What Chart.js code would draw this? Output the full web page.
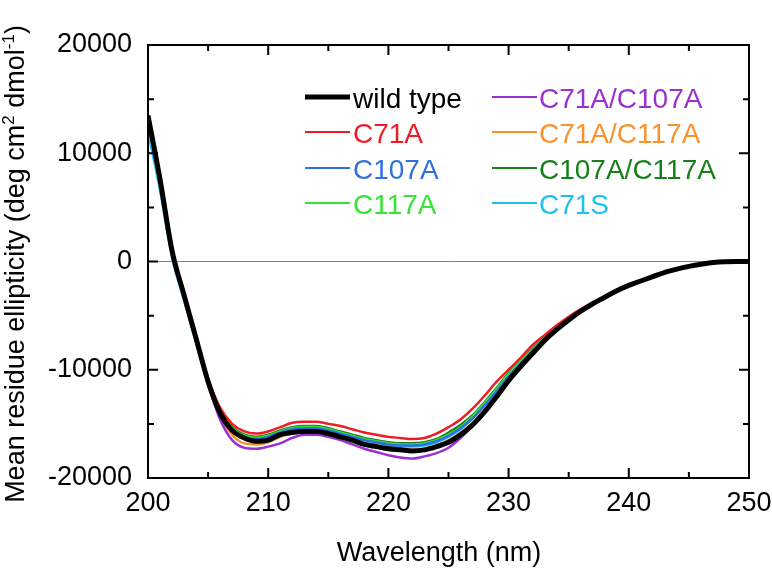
<!DOCTYPE html>
<html><head><meta charset="utf-8">
<script src="https://cdn.jsdelivr.net/npm/chart.js@4/dist/chart.umd.min.js"></script>
<style>html,body{margin:0;padding:0;background:#fff}</style>
</head><body>
<canvas id="c" width="772" height="568"></canvas>
<script>
const wavelength = [200,201,202,203,204,205,206,207,208,209,210,211,212,213,214,215,216,217,218,219,220,221,222,223,224,225,226,227,228,229,230,231,232,233,234,235,236,237,238,239,240,241,242,243,244,245,246,247,248,249,250];
const xTicks = [200,210,220,230,240,250];
const yTicks = [-20000,-10000,0,10000,20000];
const seriesNames = ['wild type','C71A','C107A','C117A','C71A/C107A','C71A/C117A','C107A/C117A','C71S'];
const seriesColors = ['#000000','#ee1c25','#2f6fdf','#33e633','#9b30d0','#f7922f','#168018','#1ec0ee'];

const wildType = [13500,7600,1000,-3100,-7100,-11100,-14000,-15600,-16300,-16600,
 -16500,-16000,-15800,-15700,-15700,-15900,-16200,-16500,-16900,-17100,
 -17300,-17400,-17500,-17400,-17100,-16700,-16000,-15100,-13900,-12500,
 -11000,-9700,-8500,-7300,-6300,-5400,-4600,-3900,-3300,-2700,
 -2200,-1800,-1400,-1000,-700,-450,-250,-100,-20,0,0];
const c71a = [13200,7400,900,-3100,-7000,-10800,-13500,-15000,-15700,-15900,
 -15700,-15300,-14900,-14800,-14800,-15000,-15200,-15500,-15800,-16000,
 -16200,-16300,-16400,-16300,-15900,-15300,-14600,-13600,-12400,-11100,
 -10000,-8900,-7700,-6800,-5900,-5100,-4400,-3800,-3200,-2700,
 -2200,-1800,-1400,-1000,-700,-450,-250,-100,-20,0,0];
const c107a = [13000,7300,800,-3200,-7100,-11000,-13900,-15500,-16200,-16400,
 -16200,-15800,-15500,-15400,-15400,-15600,-15900,-16200,-16500,-16700,
 -16900,-17000,-17000,-16900,-16600,-16100,-15400,-14500,-13300,-12000,
 -10600,-9400,-8200,-7100,-6100,-5300,-4500,-3900,-3300,-2700,
 -2200,-1800,-1400,-1000,-700,-450,-250,-100,-20,0,0];
const c117a = [13100,7400,900,-3100,-7000,-10900,-13800,-15400,-16100,-16300,
 -16100,-15700,-15400,-15300,-15300,-15500,-15800,-16100,-16400,-16600,
 -16800,-16900,-16900,-16800,-16500,-16000,-15300,-14300,-13100,-11800,
 -10400,-9200,-8100,-7000,-6100,-5300,-4500,-3900,-3300,-2700,
 -2200,-1800,-1400,-1000,-700,-450,-250,-100,-20,0,0];
const c71aC107a = [13000,7300,800,-3300,-7300,-11300,-14600,-16500,-17200,-17300,
 -17100,-16800,-16300,-16000,-16000,-16200,-16500,-16900,-17300,-17600,
 -17900,-18100,-18200,-18000,-17700,-17200,-16300,-15200,-14000,-12500,
 -11000,-9700,-8400,-7300,-6300,-5400,-4600,-3900,-3300,-2700,
 -2200,-1800,-1400,-1000,-700,-450,-250,-100,-20,0,0];
const c71aC117a = [13300,7500,900,-3200,-7200,-11200,-14200,-16000,-16800,-16900,
 -16700,-16200,-15900,-15800,-15800,-16000,-16200,-16500,-16800,-17000,
 -17200,-17300,-17400,-17300,-17000,-16500,-15800,-14900,-13700,-12300,
 -10900,-9600,-8400,-7300,-6300,-5400,-4600,-3900,-3300,-2700,
 -2200,-1800,-1400,-1000,-700,-450,-250,-100,-20,0,0];
const c107aC117a = [13200,7500,900,-3100,-7000,-10900,-13800,-15300,-16000,-16200,
 -16000,-15600,-15300,-15200,-15200,-15400,-15700,-16000,-16300,-16500,
 -16700,-16800,-16800,-16700,-16400,-15800,-15100,-14200,-13000,-11700,
 -10300,-9200,-8000,-7000,-6100,-5300,-4500,-3900,-3300,-2700,
 -2200,-1800,-1400,-1000,-700,-450,-250,-100,-20,0,0];
const c71s = [12000,6600,400,-3600,-7500,-11300,-14100,-15600,-16300,-16500,
 -16300,-15900,-15600,-15500,-15500,-15700,-16000,-16300,-16600,-16800,
 -17000,-17100,-17100,-17000,-16700,-16200,-15500,-14500,-13300,-12000,
 -10600,-9400,-8200,-7100,-6200,-5300,-4500,-3900,-3300,-2700,
 -2200,-1800,-1400,-1000,-700,-450,-250,-100,-20,0,0];

const seriesValues = [wildType,c71a,c107a,c117a,c71aC107a,c71aC117a,c107aC117a,c71s];
const FONT = "'Liberation Sans', Arial, sans-serif";

const datasets = seriesValues.map((vals,i)=>({
  label: seriesNames[i],
  data: wavelength.map((w,j)=>({x:w,y:vals[j]})),
  borderColor: seriesColors[i],
  backgroundColor: seriesColors[i],
  borderWidth: i===0 ? 5 : 2.5,
  pointRadius: 0,
  cubicInterpolationMode: 'monotone',
  fill: false
}));

const decorPlugin = {
  id:'decor',
  afterDraw(chart){
    const ctx = chart.ctx, a = chart.chartArea;
    const xs = chart.scales.x, ys = chart.scales.y;
    ctx.save();
    ctx.strokeStyle = '#000'; ctx.lineWidth = 2;
    ctx.strokeRect(a.left, a.top, a.right-a.left, a.bottom-a.top);
    ctx.beginPath();
    for (let v=200; v<=250; v+=5){
      const px = xs.getPixelForValue(v);
      const L = (v%10===0)?10:6;
      ctx.moveTo(px,a.bottom); ctx.lineTo(px,a.bottom-L);
      ctx.moveTo(px,a.top); ctx.lineTo(px,a.top+L);
    }
    for (let v=-20000; v<=20000; v+=5000){
      const py = ys.getPixelForValue(v);
      const L = (v%10000===0)?10:6;
      ctx.moveTo(a.left,py); ctx.lineTo(a.left+L,py);
      ctx.moveTo(a.right,py); ctx.lineTo(a.right-L,py);
    }
    ctx.stroke();
    const rows = [97,132,168,203];
    const cols = [[305,350,353],[492,537,539]];
    ctx.font = '28px ' + FONT;
    ctx.textAlign = 'left'; ctx.textBaseline = 'alphabetic';
    seriesNames.forEach((name,i)=>{
      const col = cols[Math.floor(i/4)], y = rows[i%4];
      ctx.strokeStyle = seriesColors[i];
      ctx.lineWidth = i===0 ? 5 : 2;
      ctx.beginPath(); ctx.moveTo(col[0],y); ctx.lineTo(col[1],y); ctx.stroke();
      ctx.fillStyle = seriesColors[i];
      ctx.fillText(name, col[2], y+11);
    });
    ctx.fillStyle = '#000';
    ctx.font = '27px ' + FONT;
    ctx.textAlign = 'center';
    ctx.fillText('Wavelength (nm)', 439, 561);
    ctx.save();
    ctx.translate(24, 264);
    ctx.rotate(-Math.PI/2);
    const parts = [['Mean residue ellipticity (deg cm',false],['2',true],[' dmol',false],['-1',true],[')',false]];
    const big = '27px ' + FONT, small = '17px ' + FONT;
    let total = 0;
    parts.forEach(p=>{ ctx.font = p[1]?small:big; total += ctx.measureText(p[0]).width; });
    let x = -total/2;
    ctx.textAlign = 'left';
    parts.forEach(p=>{
      ctx.font = p[1]?small:big;
      ctx.fillText(p[0], x, p[1] ? -10 : 0);
      x += ctx.measureText(p[0]).width;
    });
    ctx.restore();
    ctx.restore();
  }
};

new Chart(document.getElementById('c'), {
  type:'line',
  data:{ datasets },
  options:{
    responsive:false,
    animation:false,
    layout:{ padding:{ top:45, right:23, left:0, bottom:0 } },
    plugins:{ legend:{display:false}, tooltip:{enabled:false} },
    scales:{
      x:{
        type:'linear', min:200, max:250,
        afterBuildTicks: s => { s.ticks = xTicks.map(v=>({value:v})); },
        afterFit: s => { s.height = 90; s.paddingRight = 0; s.paddingLeft = 0; },
        grid:{ display:false, drawTicks:false },
        border:{ display:false },
        ticks:{ color:'#000', font:{ size:27, family:FONT }, padding:9, maxRotation:0, callback: v => String(v) }
      },
      y:{
        type:'linear', min:-20000, max:20000,
        afterBuildTicks: s => { s.ticks = yTicks.map(v=>({value:v})); },
        afterFit: s => { s.width = 148; s.paddingTop = 0; s.paddingBottom = 0; },
        grid:{ drawTicks:false, lineWidth:1, color: c => (c.tick && c.tick.value===0) ? '#808080' : 'rgba(0,0,0,0)' },
        border:{ display:false },
        ticks:{ color:'#000', font:{ size:27, family:FONT }, padding:16, callback: v => String(v) }
      }
    }
  },
  plugins:[decorPlugin]
});
</script>
</body></html>
